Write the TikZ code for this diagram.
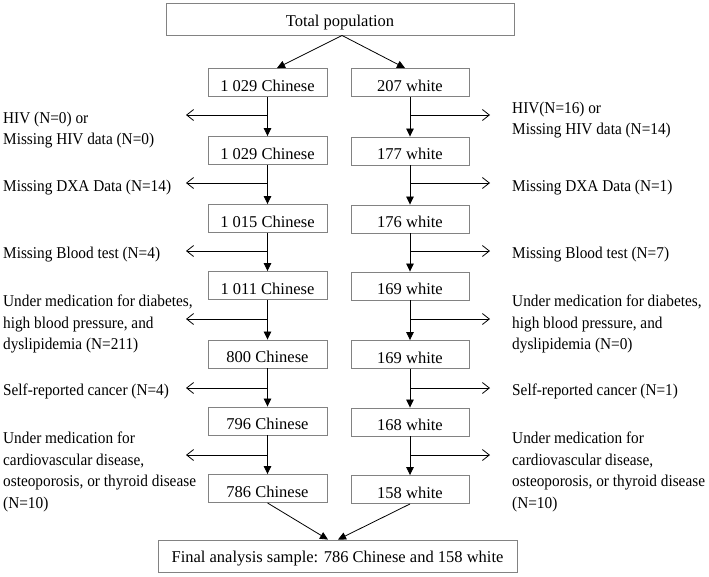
\documentclass[tikz,border=0pt]{standalone}
\usepackage{fontspec}
\setmainfont{Liberation Serif}
\newfontfamily\sidefont[FakeStretch=0.927]{Liberation Serif}
\usetikzlibrary{arrows.meta}
\definecolor{boxgray}{RGB}{130,130,130}
\tikzset{
  box/.style={draw=boxgray, line width=0.9pt, inner sep=0pt, text depth=0pt,
    font=\fontsize{16.5}{20}\selectfont},
  lbox/.style={box, minimum width=119pt, minimum height=28pt, text height=17pt},
  rbox/.style={box, minimum width=118pt, minimum height=28pt, text height=17pt},
  flow/.style={-{Triangle[length=8pt,width=7.5pt]}, line width=0.8pt},
  side/.style={-{Straight Barb[length=7pt,width=11pt]}, line width=0.8pt},
  note/.style={align=left, inner sep=0pt, anchor=north west,
    font=\sidefont\fontsize{16.5}{21.7}\selectfont}
}
\begin{document}
\begin{tikzpicture}[x=1pt,y=-1pt]
\useasboundingbox (0,0) rectangle (709,576);
% top and final
\node[box, minimum width=348pt, minimum height=32pt, text height=15.4pt] (top) at (340,19) {Total population};
\node[box, minimum width=359pt, minimum height=32pt, text height=12pt] (fin) at (337.5,556) {Final analysis sample: 786 Chinese and 158 white};
% left column
\node[lbox] (c1) at (267.5,82.5) {1 029 Chinese};
\node[lbox] (c2) at (267.5,150.5) {1 029 Chinese};
\node[lbox] (c3) at (267.5,218.5) {1 015 Chinese};
\node[lbox] (c4) at (267.5,285.5) {1 011 Chinese};
\node[lbox] (c5) at (267.5,354) {800 Chinese};
\node[lbox] (c6) at (267.5,421) {796 Chinese};
\node[lbox] (c7) at (267.5,488.5) {786 Chinese};
% right column
\node[rbox] (w1) at (410,82.5) {207 white};
\node[rbox] (w2) at (410,151) {177 white};
\node[rbox] (w3) at (410,219) {176 white};
\node[rbox] (w4) at (410,286) {169 white};
\node[rbox] (w5) at (410,354.5) {169 white};
\node[rbox] (w6) at (410,422) {168 white};
\node[rbox] (w7) at (410,489.5) {158 white};
% split and merge
\draw[flow] ([xshift=2pt]top.south) -- ([xshift=9.5pt]c1.north);
\draw[flow] ([xshift=2pt]top.south) -- ([xshift=-5pt]w1.north);
\draw[flow] (c7.south) -- ([xshift=-9.5pt]fin.north);
\draw[flow] (w7.south) -- ([xshift=0.5pt]fin.north);
% vertical flows
\foreach \a/\b in {c1/c2,c2/c3,c3/c4,c4/c5,c5/c6,c6/c7,w1/w2,w2/w3,w3/w4,w4/w5,w5/w6,w6/w7}
  \draw[flow] (\a.south) -- (\b.north);
% side exclusions: junctions and ends
\foreach \i/\y in {1/115,2/183,3/251,4/319,5/388,6/455}{
  \coordinate (lj\i) at (267.5,\y);
  \coordinate (le\i) at (186,\y);
  \coordinate (rj\i) at (410,\y);
  \coordinate (re\i) at (490,\y);
  \draw[side] (lj\i) -- (le\i);
  \draw[side] (rj\i) -- (re\i);
}
% left notes
\node[note] (n1) at (3,111.5) {HIV (N=0) or\\Missing HIV data (N=0)};
\node[note] (n2) at (3,179.5) {Missing DXA Data (N=14)};
\node[note] (n3) at (3,246.5) {Missing Blood test (N=4)};
\node[note] (n4) at (3,294.5) {Under medication for diabetes,\\high blood pressure, and\\dyslipidemia (N=211)};
\node[note] (n5) at (3,383.5) {Self-reported cancer (N=4)};
\node[note] (n6) at (3,431.5) {Under medication for\\cardiovascular disease,\\osteoporosis, or thyroid disease\\(N=10)};
% right notes
\node[note] (m1) at (512,101.5) {HIV(N=16) or\\Missing HIV data (N=14)};
\node[note] (m2) at (512,179.5) {Missing DXA Data (N=1)};
\node[note] (m3) at (512,246.5) {Missing Blood test (N=7)};
\node[note] (m4) at (512,294.5) {Under medication for diabetes,\\high blood pressure, and\\dyslipidemia (N=0)};
\node[note] (m5) at (512,383.5) {Self-reported cancer (N=1)};
\node[note] (m6) at (512,431.5) {Under medication for\\cardiovascular disease,\\osteoporosis, or thyroid disease\\(N=10)};
\end{tikzpicture}
\end{document}
